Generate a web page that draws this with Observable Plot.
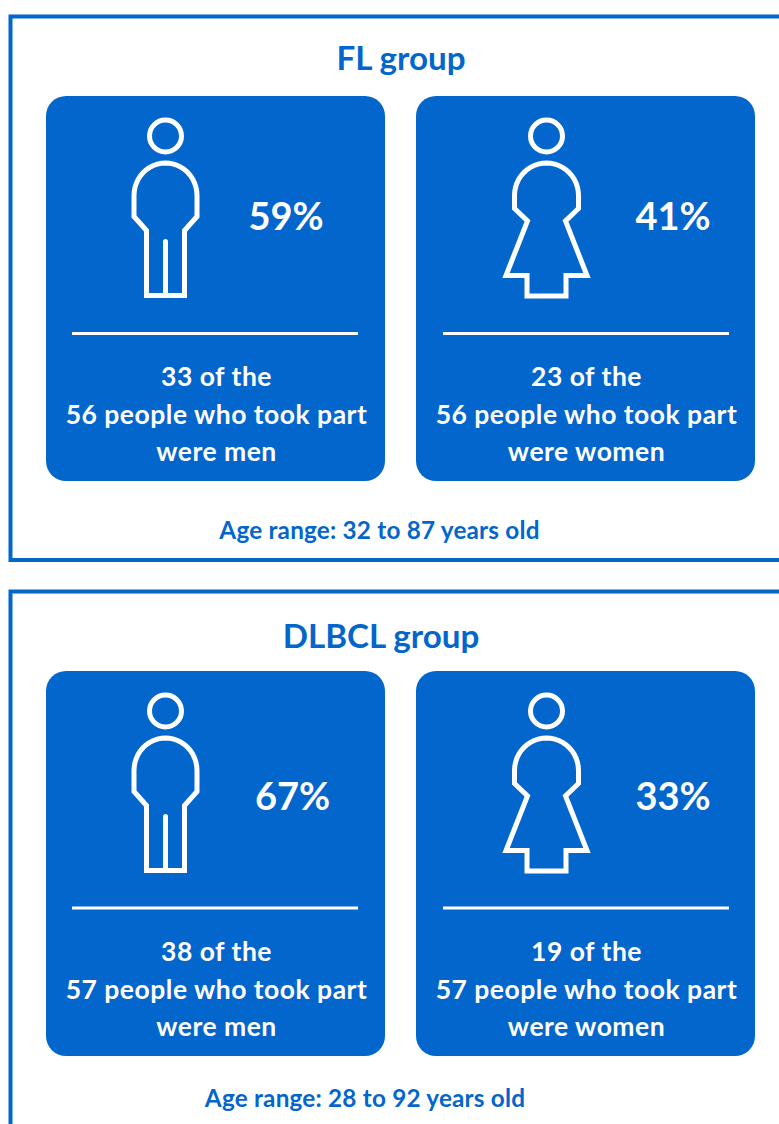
<!DOCTYPE html>
<html>
<head>
<meta charset="utf-8">
<script src="https://cdn.jsdelivr.net/npm/d3@7"></script>
<script src="https://cdn.jsdelivr.net/npm/@observablehq/plot@0.6"></script>
<style>
  html, body { margin: 0; padding: 0; background: #fff; overflow: hidden; }
  .card-text text { letter-spacing: 0.5px; }
  .age-text text { letter-spacing: 0.2px; }
</style>
</head>
<body>
<div id="chart"></div>
<script>
// Participant figures for each lymphoma group
const groups = ["FL group", "DLBCL group"];
const ageRanges = ["Age range: 32 to 87 years old", "Age range: 28 to 92 years old"];
const totals = [56, 57];
const menCounts = [33, 38];
const womenCounts = [23, 19];
const menPercents = [59, 67];
const womenPercents = [41, 33];

const BLUE = "#0366cc";
const FONT = "Lato, Carlito, 'Open Sans', sans-serif";

// Page layout, in pixels
const W = 779, H = 1124;
const panelShift = [0, 575];
const titleX = [400.5, 380.5];
const ageX = [379, 364.5];
const menPctX = [285.5, 292];
const womenPctX = [672.5, 672.5];
const cards = [
  {x1: 46, x2: 385, cx: 165, textX: 216, ruleX1: 72, ruleX2: 358, sex: "men"},
  {x1: 416, x2: 755, cx: 546, textX: 586, ruleX1: 443, ruleX2: 729, sex: "women"}
];

// Rounded shoulders shared by both figures: half-ellipse from left to right
function shoulders(halfWidth) {
  return d3.range(0, 25).map((i) => {
    const a = Math.PI - (i / 24) * Math.PI;
    return [halfWidth * Math.cos(a), 195 - 32.5 * Math.sin(a)];
  });
}

// Figure outlines, relative to the figure's centre line
const manOutline = [
  ...shoulders(31.5),
  [31.5, 216], [19, 230], [19, 295], [-19, 295], [-19, 230], [-31.5, 216], [-31.5, 195]
];
const manLegs = [[0, 241], [0, 295]];
const womanOutline = [
  ...shoulders(32),
  [32, 208], [19, 220.5], [40.5, 275], [19.5, 275], [19.5, 295.5], [-19.5, 295.5],
  [-19.5, 275], [-40.5, 275], [-19, 220.5], [-32, 208], [-32, 195]
];

// Flatten everything into per-mark tables
const cardRows = [], textRows = [], pctRows = [], iconRows = [], heads = [], dividers = [];
groups.forEach((g, i) => {
  const dy = panelShift[i];
  cards.forEach((c, j) => {
    const count = j === 0 ? menCounts[i] : womenCounts[i];
    const pct = j === 0 ? menPercents[i] : womenPercents[i];
    cardRows.push({x1: c.x1, x2: c.x2, y1: 96 + dy, y2: 481 + dy});
    dividers.push({x1: c.ruleX1, x2: c.ruleX2, y: 333 + dy - (i ? 0.5 : 0)});
    heads.push({x: c.cx, y: 135.5 + dy});
    pctRows.push({x: j === 0 ? menPctX[i] : womenPctX[i], y: 217 + dy + (i ? 5 : 0), label: `${pct}%`});
    [`${count} of the`, `${totals[i]} people who took part`, `were ${c.sex}`].forEach((label, k) => {
      textRows.push({x: c.textX, y: 377 + k * 37.6 + dy, label});
    });
    const key = `${i}-${j}`;
    (j === 0 ? manOutline : womanOutline).forEach(([px, py]) =>
      iconRows.push({x: c.cx + px, y: py + dy, key: key + "-body"}));
    if (j === 0) manLegs.forEach(([px, py]) =>
      iconRows.push({x: c.cx + px, y: py + dy, key: key + "-legs"}));
  });
});

const frames = [
  {x: W, y: 16, key: "a"}, {x: 10, y: 16, key: "a"}, {x: 10, y: 559.5, key: "a"}, {x: W, y: 559.5, key: "a"},
  {x: W, y: 591, key: "b"}, {x: 10, y: 591, key: "b"}, {x: 10, y: H, key: "b"}
];
const titleRows = groups.map((g, i) => ({x: titleX[i], y: i ? 636.5 : 59, label: g}));
const ageRows = ageRanges.map((a, i) => ({x: ageX[i], y: i ? 1098.5 : 530.5, label: a}));

const outline = {stroke: "#fff", strokeWidth: 5, strokeLinejoin: "miter", strokeMiterlimit: 10, strokeLinecap: "round"};

const chart = Plot.plot({
  width: W,
  height: H,
  margin: 0,
  x: {domain: [0, W], range: [0, W], axis: null},
  y: {domain: [0, H], range: [0, H], axis: null},
  style: {fontFamily: FONT, background: "#fff"},
  marks: [
    Plot.line(frames, {x: "x", y: "y", z: "key", stroke: BLUE, strokeWidth: 4, strokeLinejoin: "miter", strokeMiterlimit: 10}),
    Plot.rect(cardRows, {x1: "x1", x2: "x2", y1: "y1", y2: "y2", fill: BLUE, rx: 20}),
    Plot.ruleY(dividers, {x1: "x1", x2: "x2", y: "y", stroke: "#fff", strokeWidth: 3}),
    Plot.line(iconRows, {x: "x", y: "y", z: "key", ...outline}),
    Plot.dot(heads, {x: "x", y: "y", r: 16, stroke: "#fff", strokeWidth: 5, fill: "none"}),
    Plot.text(titleRows, {x: "x", y: "y", text: "label", fill: BLUE, fontSize: 33.2, fontWeight: 700}),
    Plot.text(ageRows, {x: "x", y: "y", text: "label", fill: BLUE, fontSize: 24.3, fontWeight: 700, className: "age-text"}),
    Plot.text(pctRows, {x: "x", y: "y", text: "label", fill: "#fff", fontSize: 38, fontWeight: 700}),
    Plot.text(textRows, {x: "x", y: "y", text: "label", fill: "#fff", fontSize: 26.5, fontWeight: 700, className: "card-text"})
  ]
});
document.getElementById("chart").append(chart);
</script>
</body>
</html>
